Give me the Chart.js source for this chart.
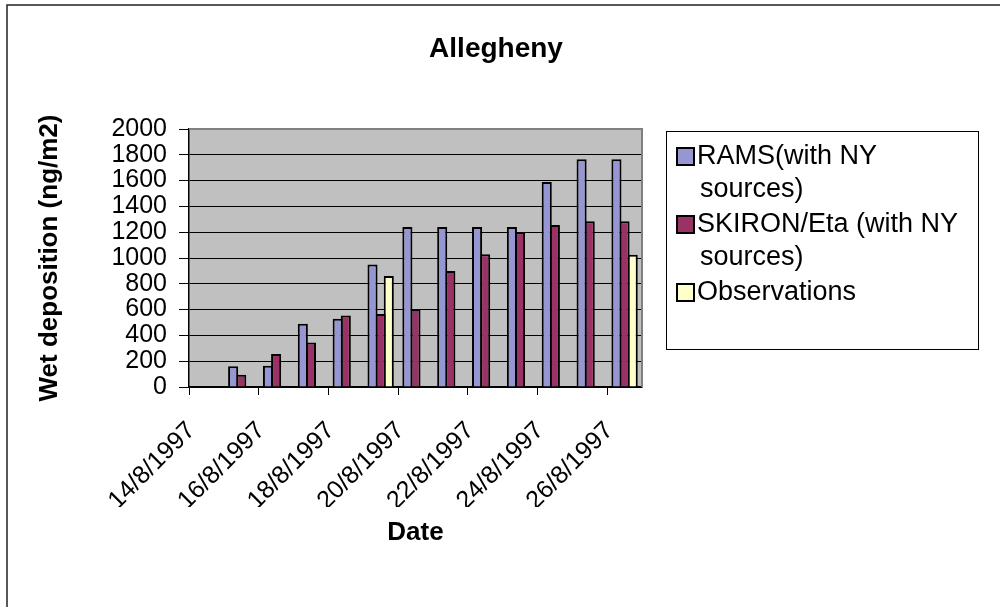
<!DOCTYPE html>
<html>
<head>
<meta charset="utf-8">
<script src="https://cdn.jsdelivr.net/npm/chart.js@4.4.1/dist/chart.umd.min.js"></script>
<style>
  html, body { margin: 0; padding: 0; background: #fff; }
  #canvas { display: block; }
</style>
</head>
<body>
<canvas id="canvas" width="1000" height="607"></canvas>
<script>
// Dates along the x-axis (one bar group per day)
const dates = ['14/8/1997', '15/8/1997', '16/8/1997', '17/8/1997', '18/8/1997', '19/8/1997',
  '20/8/1997', '21/8/1997', '22/8/1997', '23/8/1997', '24/8/1997', '25/8/1997', '26/8/1997'];
// Wet deposition (ng/m2) per model
const rams = [null, 160, 165, 490, 530, 950, 1240, 1240, 1240, 1240, 1590, 1765, 1765];
const skiron = [null, 95, 255, 345, 555, 565, 605, 900, 1030, 1200, 1255, 1285, 1285];
const observations = [null, null, null, null, null, 860, null, null, null, null, null, null, 1025];
// y-axis range and step
const yMin = 0;
const yMax = 2000;
const yStep = 200;

const seriesNames = [['RAMS(with NY', 'sources)'], ['SKIRON/Eta (with NY', 'sources)'], ['Observations']];
const seriesColors = ['#9696D2', '#993366', '#FFFFCC'];

const FONT = 'Arial, "Liberation Sans", sans-serif';

// Excel-like frame, plot background, titles and the boxed legend
const excelLook = {
  id: 'excelLook',
  beforeDraw(chart) {
    const c = chart.ctx;
    const a = chart.chartArea;
    c.save();
    c.fillStyle = '#fff';
    c.fillRect(0, 0, chart.width, chart.height);
    c.strokeStyle = '#222';
    c.lineWidth = 1.5;
    c.strokeRect(7, 5, 1100, 800);
    c.fillStyle = '#C0C0C0';
    c.fillRect(a.left, a.top, a.right - a.left, a.bottom - a.top);
    c.restore();
  },
  afterDraw(chart) {
    const c = chart.ctx;
    const a = chart.chartArea;
    c.save();
    // plot area edges
    c.strokeStyle = '#808080';
    c.lineWidth = 2;
    c.beginPath();
    c.moveTo(a.left, a.top);
    c.lineTo(a.right, a.top);
    c.lineTo(a.right, a.bottom);
    c.stroke();

    c.fillStyle = '#000';
    // title
    c.font = 'bold 28px ' + FONT;
    c.textAlign = 'center';
    c.textBaseline = 'alphabetic';
    c.fillText('Allegheny', 496, 57);
    // x title
    c.font = 'bold 26px ' + FONT;
    c.textBaseline = 'middle';
    c.fillText('Date', (a.left + a.right) / 2, 533);
    // y title
    c.translate(50, (a.top + a.bottom) / 2);
    c.rotate(-Math.PI / 2);
    c.fillText('Wet deposition (ng/m2)', 0, 0);
    c.setTransform(1, 0, 0, 1, 0, 0);

    // legend
    c.strokeStyle = '#000';
    c.lineWidth = 1;
    c.strokeRect(666.5, 131.5, 312, 218);
    c.font = '27px ' + FONT;
    c.textAlign = 'left';
    c.textBaseline = 'middle';
    let y = 157;
    seriesNames.forEach((lines, i) => {
      c.fillStyle = seriesColors[i];
      c.fillRect(677, y - 9, 17, 17);
      c.strokeStyle = '#000';
      c.lineWidth = 2;
      c.strokeRect(677, y - 9, 17, 17);
      c.fillStyle = '#000';
      lines.forEach((t, j) => {
        c.fillText(t, j === 0 ? 697 : 700, y + j * 33);
      });
      y += lines.length * 33 + 2;
    });
    c.restore();
  }
};

const barStyle = { borderColor: '#000', borderWidth: 2, categoryPercentage: 0.7, barPercentage: 1.24 };

new Chart(document.getElementById('canvas'), {
  type: 'bar',
  data: {
    labels: dates,
    datasets: [
      { label: seriesNames[0].join(' '), data: rams, backgroundColor: seriesColors[0], ...barStyle },
      { label: seriesNames[1].join(' '), data: skiron, backgroundColor: seriesColors[1], ...barStyle },
      { label: seriesNames[2].join(' '), data: observations, backgroundColor: seriesColors[2], ...barStyle }
    ]
  },
  options: {
    responsive: false,
    animation: false,
    events: [],
    layout: { padding: { top: 129, right: 358, bottom: 100, left: 109 } },
    plugins: { legend: { display: false }, title: { display: false }, tooltip: { enabled: false } },
    scales: {
      x: {
        afterFit: (s) => { s.height = 120; },
        grid: {
          drawOnChartArea: false,
          tickLength: 8,
          color: (ctx) => (ctx.index !== undefined && ctx.index % 2 === 0 ? '#000' : 'rgba(0,0,0,0)'),
          lineWidth: 1
        },
        border: { color: '#000', width: 1.5 },
        ticks: {
          autoSkip: false,
          minRotation: 45,
          maxRotation: 45,
          padding: 21,
          labelOffset: -15,
          color: '#000',
          font: { family: FONT, size: 25 },
          callback: (v, i) => (i % 2 === 0 ? dates[i] : '')
        }
      },
      y: {
        min: yMin,
        max: yMax,
        afterFit: (s) => { s.width = 80; },
        grid: { color: '#000', lineWidth: 1, tickLength: 10 },
        border: { color: '#000', width: 1.5 },
        ticks: {
          stepSize: yStep,
          autoSkip: false,
          padding: 12,
          color: '#000',
          font: { family: FONT, size: 25 },
          callback: (v) => String(v)
        }
      }
    }
  },
  plugins: [excelLook]
});
</script>
</body>
</html>
